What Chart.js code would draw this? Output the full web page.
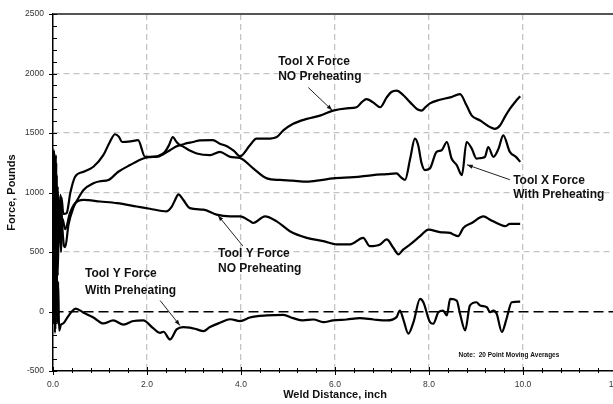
<!DOCTYPE html>
<html><head><meta charset="utf-8">
<script src="https://cdn.jsdelivr.net/npm/chart.js@4"></script>
<style>
html,body{margin:0;padding:0;background:#fff;overflow:hidden;}
#wrap{position:relative;width:640px;height:404px;}
</style></head><body>
<div id="wrap"><canvas id="c"></canvas></div>
<script>
// ---- data (weld distance in inch, force in pounds) ----
const xNoPreX = [0.00,0.02,0.04,0.06,0.08,0.10,0.13,0.16,0.20,0.23,0.26,0.33,0.43,0.55,0.65,0.86,1.00,1.18,1.39,1.64,1.92,2.10,2.25,2.38,2.47,2.55,2.62,2.70,2.85,2.98,3.13,3.40,3.55,3.70,3.85,3.98,4.19,4.33,4.55,4.76,4.90,5.11,5.40,5.68,5.96,6.25,6.46,6.57,6.67,6.81,6.96,7.10,7.20,7.31,7.45,7.60,7.75,7.84,7.93,8.02,8.23,8.45,8.66,8.80,8.91,9.09,9.30,9.40,9.51,9.62,9.72,9.85,9.94];
const xNoPreF = [150,1360,100,1320,250,1050,650,980,700,560,540,731,869,960,1022,1078,1095,1106,1175,1231,1286,1300,1310,1342,1400,1467,1430,1400,1415,1425,1439,1440,1411,1390,1350,1305,1397,1453,1453,1467,1522,1578,1619,1647,1689,1708,1717,1760,1786,1758,1717,1800,1845,1856,1820,1758,1700,1689,1720,1750,1780,1800,1828,1731,1647,1606,1550,1536,1564,1640,1703,1770,1810];

const xPreX = [0.00,0.02,0.05,0.07,0.09,0.11,0.14,0.18,0.22,0.29,0.37,0.47,0.65,0.86,1.07,1.21,1.32,1.40,1.47,1.65,1.81,1.96,2.20,2.38,2.49,2.70,2.88,3.06,3.34,3.55,3.77,3.98,4.26,4.55,4.83,5.10,5.40,5.70,5.96,6.40,6.81,7.10,7.31,7.40,7.49,7.60,7.70,7.77,7.84,7.91,8.02,8.16,8.27,8.38,8.48,8.59,8.70,8.80,8.91,9.01,9.10,9.19,9.26,9.37,9.48,9.58,9.72,9.85,9.94];
const xPreF = [50,1340,0,1250,400,980,850,960,820,827,1000,1133,1175,1217,1314,1425,1490,1470,1425,1430,1440,1300,1300,1330,1356,1397,1360,1328,1314,1342,1300,1290,1203,1119,1106,1100,1092,1105,1119,1130,1147,1155,1161,1130,1106,1286,1453,1397,1250,1189,1203,1342,1356,1425,1286,1231,1147,1425,1369,1286,1290,1300,1383,1300,1369,1481,1342,1300,1258];

const yNoPreX = [0.00,0.03,0.05,0.08,0.10,0.13,0.17,0.20,0.26,0.36,0.47,0.65,1.00,1.36,1.78,2.06,2.42,2.53,2.60,2.67,2.77,2.91,3.20,3.48,3.77,3.98,4.19,4.26,4.51,4.76,5.04,5.40,5.75,6.04,6.32,6.60,6.74,6.96,7.10,7.24,7.35,7.45,7.60,7.81,7.99,8.23,8.45,8.52,8.62,8.73,8.91,9.16,9.30,9.51,9.62,9.72,9.94];
const yNoPreF = [-100,1300,-150,1150,300,900,500,780,692,827,911,939,925,911,883,864,842,883,940,985,939,869,856,814,800,800,760,744,800,758,675,619,592,564,564,619,550,564,606,536,481,520,564,633,689,668,661,647,633,703,744,800,772,731,717,736,736];

const yPreX = [0.00,0.02,0.04,0.07,0.09,0.11,0.13,0.17,0.22,0.29,0.40,0.48,0.65,0.86,1.07,1.28,1.50,1.71,1.92,2.13,2.28,2.35,2.49,2.63,2.77,2.91,3.06,3.20,3.34,3.55,3.77,3.98,4.19,4.55,4.90,5.11,5.32,5.54,5.75,5.96,6.25,6.53,6.82,7.10,7.31,7.38,7.45,7.56,7.67,7.81,7.88,8.02,8.09,8.20,8.30,8.38,8.45,8.59,8.66,8.77,8.87,9.01,9.09,9.23,9.30,9.37,9.44,9.55,9.65,9.76,9.94];
const yPreF = [-50,1000,-180,800,-100,250,-160,-110,-100,-60,0,25,-10,-50,-100,-75,-110,-80,-75,-140,-180,-170,-235,-150,-131,-135,-150,-165,-130,-95,-65,-80,-50,-33,-28,-56,-75,-67,-89,-75,-67,-56,-67,-75,-47,8,-61,-186,-89,106,78,-89,-103,-6,8,-33,106,92,-19,-158,50,78,50,36,-6,8,-19,-172,-61,78,83];

const xAxisTitle = 'Weld Distance, inch';
const yAxisTitle = 'Force, Pounds';
const noteText = 'Note:  20 Point Moving Averages';
const seriesNames = ['Tool X Force NO Preheating','Tool X Force With Preheating','Tool Y Force NO Preheating','Tool Y Force With Preheating'];

// ---- annotation layout (data coordinates) ----
const labels = [
  {text:['Tool X Force','NO Preheating'], x:4.79, y:[2100,1975], from:[5.43,1883], to:[5.94,1692]},
  {text:['Tool X Force','With Preheating'], x:9.79, y:[1100,979], from:[9.72,1108], to:[8.81,1233]},
  {text:['Tool Y Force','NO Preheating'], x:3.51, y:[483,358], from:[4.04,550], to:[3.51,808]},
  {text:['Tool Y Force','With Preheating'], x:0.68, y:[317,175], from:[2.28,92], to:[2.70,-117]}
];

const zip = (xs, ys) => xs.map((v,i)=>({x:v, y:ys[i]}));
const mk = (name, xs, ys) => ({label:name, data:zip(xs,ys), borderColor:'#000', borderWidth:2.2,
  pointRadius:0, fill:false, cubicInterpolationMode:'monotone'});

const tickMarks = {
  id:'tickMarks',
  afterDraw(chart){
    const {ctx, chartArea:a, scales:{x,y}} = chart;
    ctx.save(); ctx.strokeStyle='#000'; ctx.lineWidth=1;
    ctx.beginPath();
    for(let v=-500; v<=2500; v+=100){
      const py = Math.round(y.getPixelForValue(v))+0.5;
      const major = v%500===0;
      ctx.moveTo(a.left-(major?4:0), py); ctx.lineTo(a.left+4, py);
    }
    for(let i=0;i<=30;i++){
      const px = Math.round(x.getPixelForValue(i*0.4))+0.5;
      const major = i%5===0;
      ctx.moveTo(px, a.bottom-(major?4:3)); ctx.lineTo(px, a.bottom+(major?4:2));
    }
    ctx.stroke(); ctx.restore();
  }
};

const annot = {
  id:'annot',
  afterDatasetsDraw(chart){
    const {ctx, scales:{x,y}} = chart;
    ctx.save();
    ctx.fillStyle='#111'; ctx.strokeStyle='#222';
    ctx.font='bold 12px "Liberation Sans", Arial, sans-serif';
    ctx.textBaseline='middle'; ctx.textAlign='left';
    labels.forEach(l=>{
      l.text.forEach((t,i)=>ctx.fillText(t, x.getPixelForValue(l.x), y.getPixelForValue(l.y[i])));
      const x1=x.getPixelForValue(l.from[0]), y1=y.getPixelForValue(l.from[1]);
      const x2=x.getPixelForValue(l.to[0]), y2=y.getPixelForValue(l.to[1]);
      ctx.lineWidth=1;
      ctx.beginPath(); ctx.moveTo(x1,y1); ctx.lineTo(x2,y2); ctx.stroke();
      const ang=Math.atan2(y2-y1,x2-x1), s=6;
      ctx.beginPath(); ctx.moveTo(x2,y2);
      ctx.lineTo(x2-s*Math.cos(ang-0.35), y2-s*Math.sin(ang-0.35));
      ctx.lineTo(x2-s*Math.cos(ang+0.35), y2-s*Math.sin(ang+0.35));
      ctx.closePath(); ctx.fill();
    });
    ctx.font='bold 6.5px "Liberation Sans", Arial, sans-serif';
    ctx.textAlign='center';
    ctx.fillText(noteText, x.getPixelForValue(9.70), y.getPixelForValue(-367));
    ctx.restore();
  }
};

const yGridColor = c => { const v=c.tick&&c.tick.value; if(v===2500) return '#555'; if(v===0) return '#000'; if(v===-500) return 'rgba(0,0,0,0)'; return '#c4c4c4'; };
const yGridWidth = c => { const v=c.tick&&c.tick.value; if(v===2500) return 2; if(v===0) return 1.6; return 1.3; };
const yGridDash = c => { if(!c.tick) return []; const v=c.tick.value; if(v===2500) return []; if(v===0) return [10,5]; return [6,4]; };

new Chart(document.getElementById('c'), {
  type:'line',
  data:{datasets:[
    mk(seriesNames[0], xNoPreX, xNoPreF),
    mk(seriesNames[1], xPreX, xPreF),
    mk(seriesNames[2], yNoPreX, yNoPreF),
    mk(seriesNames[3], yPreX, yPreF)
  ]},
  options:{
    responsive:true, maintainAspectRatio:false, animation:false,
    layout:{padding:{left:0, top:13, right:23, bottom:0}},
    plugins:{legend:{display:false}, tooltip:{enabled:false}},
    scales:{
      x:{type:'linear', min:0, max:12,
        afterFit:s=>{s.height=33;},
        ticks:{stepSize:2, autoSkip:false, maxRotation:0, padding:9, color:'#333',
          font:{family:'"Liberation Sans", Arial, sans-serif', size:8.5},
          callback:v=>Number(v).toFixed(1)},
        grid:{drawTicks:false,
          color:c=>{const v=c.tick&&c.tick.value; return (v===0||v===12)?'rgba(0,0,0,0)':'#c4c4c4';},
          lineWidth:1.3},
        border:{display:true, color:'#000', width:1.5, dash:[6,4]},
        title:{display:true, text:xAxisTitle, color:'#111', padding:{top:0,bottom:2.5},
          font:{family:'"Liberation Sans", Arial, sans-serif', size:11, weight:'bold'}}
      },
      y:{min:-500, max:2500,
        afterFit:s=>{s.width=53;},
        ticks:{stepSize:500, autoSkip:false, padding:9, color:'#333',
          font:{family:'"Liberation Sans", Arial, sans-serif', size:8.5},
          callback:v=>String(v)},
        grid:{drawTicks:false, color:yGridColor, lineWidth:yGridWidth},
        border:{display:true, color:'#000', width:1.5, dash:yGridDash},
        title:{display:true, text:yAxisTitle, color:'#111', padding:{top:5,bottom:0},
          font:{family:'"Liberation Sans", Arial, sans-serif', size:11, weight:'bold'}}
      }
    }
  },
  plugins:[annot, tickMarks]
});
</script>
</body></html>
